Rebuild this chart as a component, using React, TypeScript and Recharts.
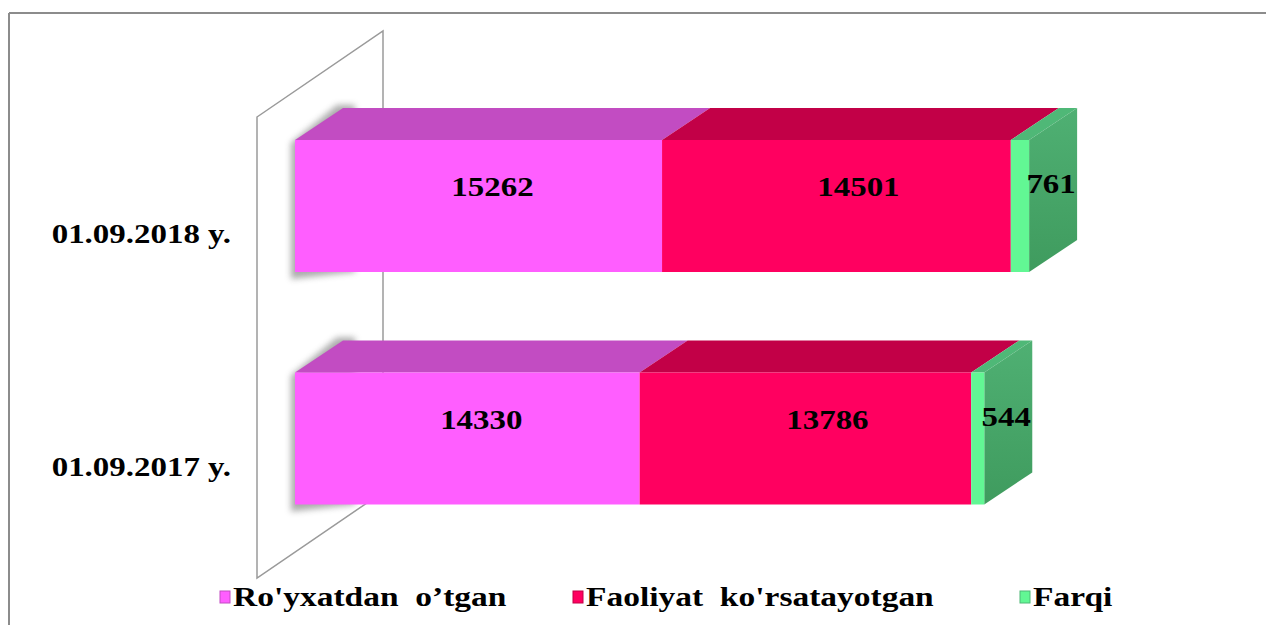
import { BarChart, Bar, XAxis, YAxis, LabelList } from "recharts";

// data
const categories = ["01.09.2018 y.", "01.09.2017 y."];
const registered = [15262, 14330];
const active = [14501, 13786];
const difference = [761, 544];
const seriesNames = ["Ro'yxatdan  o\u2019tgan", "Faoliyat  ko'rsatayotgan", "Farqi"];

const data = categories.map((name, i) => ({
  name,
  registered: registered[i],
  active: active[i],
  difference: difference[i],
}));

const W = 1266;
const H = 617;
const DX = 48;
const DY = 32;
const FONT = '"Liberation Serif", "Times New Roman", serif';

const colors = [
  { front: "#FF5EFF", top: "#C24CC2" },
  { front: "#FF0060", top: "#C20047" },
  { front: "#62F794", top: "#4FB877" },
];

const makeShape = (c: (typeof colors)[number], withSide: boolean, withShadow: boolean) =>
  (props: any) => {
    const { x, y, width, height } = props;
    if (!width || width <= 0) return <g />;
    const r = x + width;
    const b = y + height;
    return (
      <g>
        {withShadow && (
          <polygon
            points={`${x - 4},${b + 7} ${x - 4},${y + 3} ${x + DX - 6},${y - DY - 3} ${x + DX + 12},${y - DY - 3} ${x + DX + 12},${b}`}
            fill="#888"
            opacity={0.7}
            filter="url(#barShadow)"
          />
        )}
        <polygon
          points={`${x},${y} ${x + DX},${y - DY} ${r + DX},${y - DY} ${r},${y}`}
          fill={c.top}
        />
        {withSide && (
          <polygon
            points={`${r},${y} ${r + DX},${y - DY} ${r + DX},${b - DY} ${r},${b}`}
            fill="url(#greenSide)"
          />
        )}
        <rect x={x} y={y} width={width} height={height} fill={c.front} />
      </g>
    );
  };

// side: label sits on the right face of the box; shift: nudge along the front face
const valueLabel = (side: boolean, shift: number) => (props: any) => {
  const { x, y, width, height, value } = props;
  const cx = side ? x + width + DX / 2 - 2 : x + width / 2 + shift;
  const by = y + height / 2 + (side ? -13 : -10);
  return (
    <text
      transform={`translate(${cx},${by}) scale(1.22,1)`}
      textAnchor="middle"
      fontFamily={FONT}
      fontWeight="bold"
      fontSize={27}
      fill="#000"
    >
      {value}
    </text>
  );
};

const CategoryTick = (props: any) => {
  const { y, payload } = props;
  return (
    <text
      transform={`translate(223,${y + 37}) scale(1.22,1)`}
      textAnchor="end"
      fontFamily={FONT}
      fontWeight="bold"
      fontSize={27}
      fill="#000"
    >
      {payload.value}
    </text>
  );
};

const legendX = [212, 565, 1012];

function Backdrop() {
  return (
    <svg width={W} height={H} style={{ position: "absolute", left: 0, top: 0 }}>
      <defs>
        <filter id="barShadow" x="-50%" y="-50%" width="200%" height="200%">
          <feGaussianBlur stdDeviation="3" />
        </filter>
        <linearGradient id="greenSide" x1="0" y1="0" x2="0" y2="1">
          <stop offset="0" stopColor="#4FB073" />
          <stop offset="1" stopColor="#3F9B5E" />
        </linearGradient>
      </defs>
      {/* outer frame */}
      <line x1={1} y1={5} x2={W} y2={5} stroke="#8c8c8c" strokeWidth={2} />
      <line x1={1} y1={5} x2={1} y2={H} stroke="#8c8c8c" strokeWidth={2} />
      {/* back wall */}
      <polygon
        points="249,109 375,23 375,484 249,570"
        fill="#fff"
        stroke="#9a9a9a"
        strokeWidth={1.5}
      />
      {/* legend */}
      {seriesNames.map((name, i) => (
        <g key={name}>
          <rect
            x={legendX[i]}
            y={583}
            width={10}
            height={12}
            fill={colors[i].front}
            stroke={colors[i].top}
            strokeWidth={1}
          />
          <text
            transform={`translate(${legendX[i] + 13},598) scale(1.24,1)`}
            fontFamily={FONT}
            fontWeight="bold"
            fontSize={27}
            fill="#000"
            style={{ whiteSpace: "pre" }}
          >
            {name}
          </text>
        </g>
      ))}
    </svg>
  );
}

export default function App() {
  return (
    <div style={{ position: "relative", width: W, height: H, background: "#fff" }}>
      <Backdrop />
      <BarChart
        width={W}
        height={H}
        data={data}
        layout="vertical"
        barSize={132}
        margin={{ top: 82, right: 17, bottom: 70, left: 0 }}
      >
        <XAxis type="number" domain={[0, 40000]} hide />
        <YAxis
          type="category"
          dataKey="name"
          width={287}
          axisLine={false}
          tickLine={false}
          tick={<CategoryTick />}
        />
        <Bar
          dataKey="registered"
          stackId="a"
          isAnimationActive={false}
          shape={makeShape(colors[0], false, true)}
        >
          <LabelList dataKey="registered" content={valueLabel(false, 14)} />
        </Bar>
        <Bar
          dataKey="active"
          stackId="a"
          isAnimationActive={false}
          shape={makeShape(colors[1], false, false)}
        >
          <LabelList dataKey="active" content={valueLabel(false, 22)} />
        </Bar>
        <Bar
          dataKey="difference"
          stackId="a"
          isAnimationActive={false}
          shape={makeShape(colors[2], true, false)}
        >
          <LabelList dataKey="difference" content={valueLabel(true, 0)} />
        </Bar>
      </BarChart>
    </div>
  );
}
